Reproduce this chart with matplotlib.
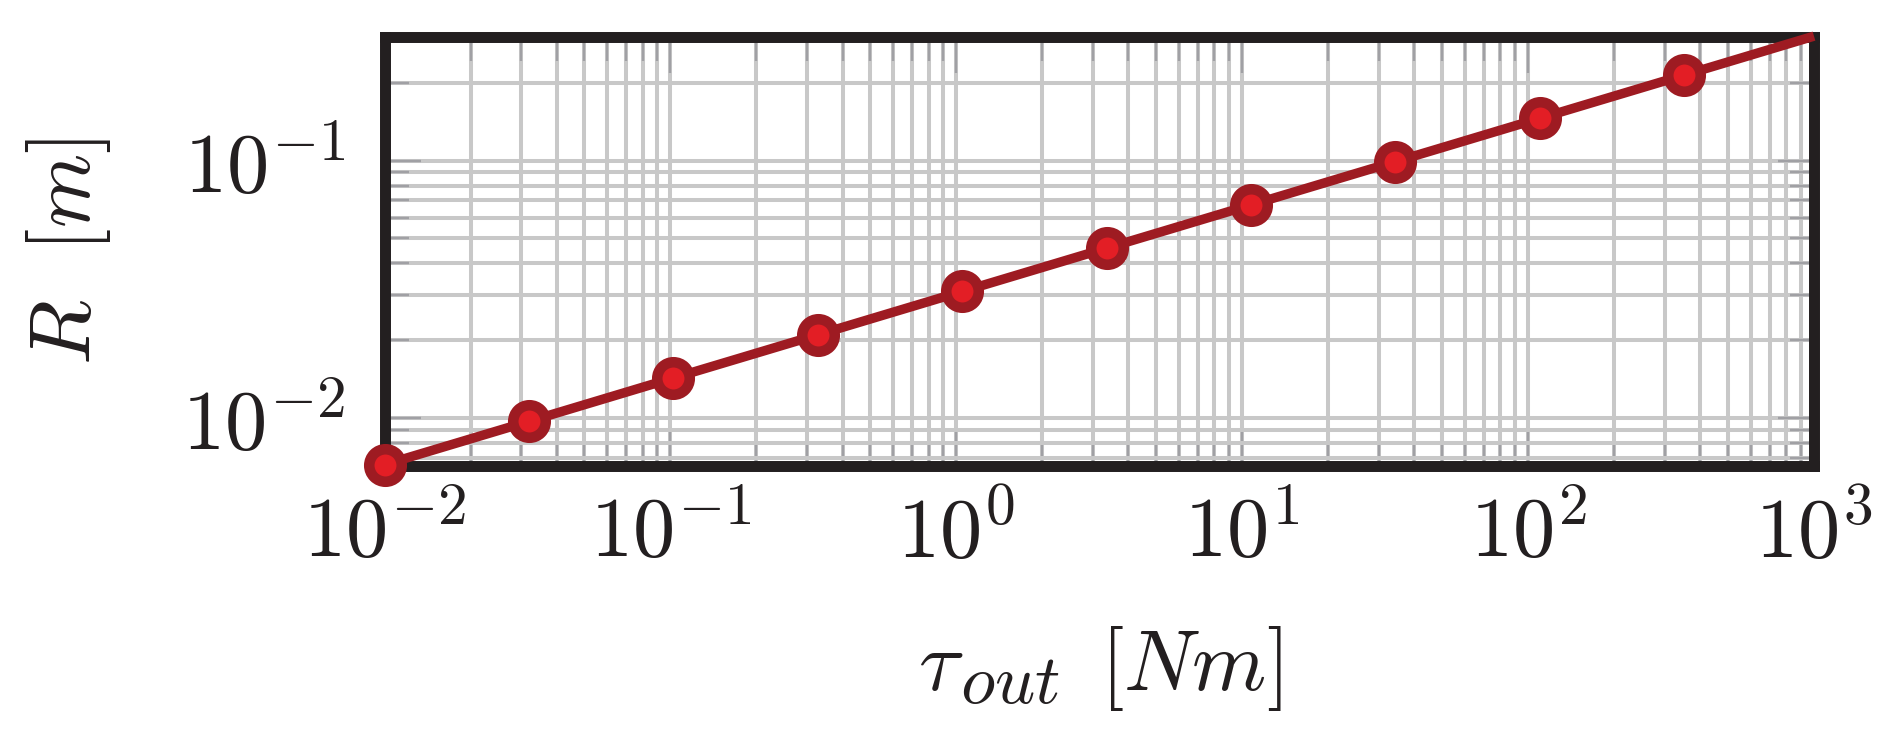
import matplotlib
matplotlib.use("Agg")
import matplotlib.pyplot as plt
from matplotlib.ticker import LogLocator, NullFormatter, FuncFormatter
import math

plt.rcParams['mathtext.fontset'] = 'cm'
plt.rcParams['font.family'] = ['DejaVu Serif']

# Data (markers + the line's end point at x=1000)
tau_out = [0.01, 0.0320, 0.1023, 0.3275, 1.048, 3.353, 10.72, 34.30, 109.7, 351.1, 1000.0]
R_vals = [0.00657, 0.00968, 0.01427, 0.02102, 0.03098, 0.04565, 0.06725, 0.0991, 0.1460, 0.2151, 0.305]
n_markers = 10

xlim = (1e-2, 1e3)
ylim = (0.00652, 0.304)

W, H = 1896, 743
dpi = 100
fig = plt.figure(figsize=(W / dpi, H / dpi), dpi=dpi)
ax = fig.add_axes([384.5 / W, 1 - 465.5 / H, (1814 - 384.5) / W, (465.5 - 36.5) / H])

edge_col = '#9e1b22'
face_col = '#e31e25'
spine_col = '#231f20'
grid_col = '#c8c8c8'
tick_col = '#a0a0a4'
text_col = '#231f20'
fs = 61

ax.set_xscale('log')
ax.set_yscale('log')
ax.set_xlim(*xlim)
ax.set_ylim(*ylim)

ax.plot(tau_out, R_vals, color=edge_col, lw=6.8, solid_capstyle='butt',
        marker='o', markevery=list(range(n_markers)), ms=23.4, mew=7.6,
        markerfacecolor=face_col, markeredgecolor=edge_col, clip_on=False, zorder=5)

def pow10(v, pos):
    e = int(round(math.log10(v)))
    return r'$10^{%d}$' % e

ax.xaxis.set_major_locator(LogLocator(base=10, numticks=20))
ax.xaxis.set_minor_locator(LogLocator(base=10, subs=range(2, 10), numticks=50))
ax.yaxis.set_major_locator(LogLocator(base=10, numticks=20))
ax.yaxis.set_minor_locator(LogLocator(base=10, subs=range(2, 10), numticks=50))
ax.xaxis.set_major_formatter(FuncFormatter(pow10))
ax.yaxis.set_major_formatter(FuncFormatter(pow10))
ax.xaxis.set_minor_formatter(NullFormatter())
ax.yaxis.set_minor_formatter(NullFormatter())

ax.set_axisbelow(True)
ax.grid(True, which='both', color=grid_col, lw=2.9)

ax.tick_params(which='both', direction='in', top=True, right=True, color=tick_col,
               labelsize=fs, labelcolor=text_col)
ax.tick_params(which='major', length=25.9, width=1.7)
ax.tick_params(which='minor', length=17.3, width=1.7)
ax.tick_params(axis='y', which='major', pad=28)
ax.tick_params(axis='x', which='major', pad=20)

for s in ax.spines.values():
    s.set_linewidth(7.9)
    s.set_color(spine_col)

ax.set_ylabel(r'$R\ \ [m]$', fontsize=fs, color=text_col, labelpad=50)

# x label built from pieces so the subscript can be larger (as in the reference)
renderer = fig.canvas.get_renderer()
pieces = [(r'$\tau$', fs, 0), (r'$out$', fs * 0.83, -13), (r'$\:\ [Nm]$', fs, 0)]
widths = []
for s, size, _ in pieces:
    t = fig.text(0, 0, s, fontsize=size)
    widths.append(t.get_window_extent(renderer).width)
    t.remove()
total = sum(widths) - 4
center_x = 1100
baseline_y = H - 690
x = center_x - total / 2
for (s, size, dy), w in zip(pieces, widths):
    fig.text(x / W, (baseline_y + dy) / H, s, fontsize=size, color=text_col,
             ha='left', va='baseline')
    x += w - (4 if s == r'$\tau$' else 0)

fig.savefig('out.png', dpi=dpi)
